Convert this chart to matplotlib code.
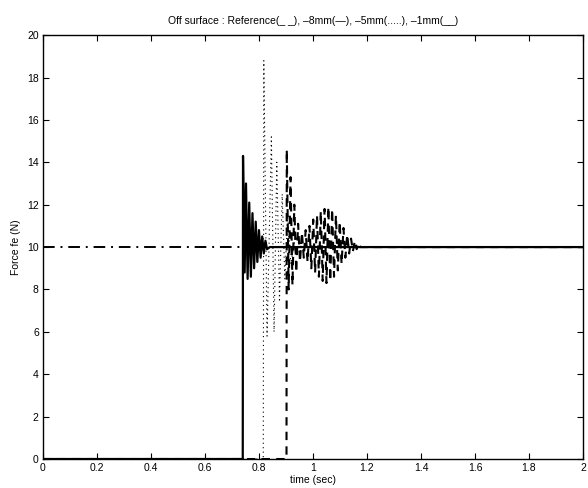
import numpy as np
import matplotlib
matplotlib.use('Agg')
import matplotlib.pyplot as plt

plt.rcParams['font.family'] = ['Liberation Sans', 'DejaVu Sans']

# reference force
t_ref = [0.0, 2.0]
f_ref = [10.0, 10.0]

# -8mm (dashed)
t_8mm = [0.0, 0.902, 0.903, 0.910, 0.917, 0.924, 0.931, 0.938, 0.945, 0.952, 0.959,
         0.966, 0.973, 0.980, 0.987, 0.994, 1.001, 1.008, 1.015, 1.022, 1.029, 1.036,
         1.043, 1.050, 1.057, 1.064, 1.071, 1.078, 1.085, 1.092, 1.099, 1.106, 1.113,
         1.120, 1.127, 1.134, 1.141, 1.148, 1.155, 1.162, 1.169, 1.176, 1.190, 2.0]
f_8mm = [0.0, 0.0, 14.6, 8.0, 13.3, 8.2, 12.0, 8.8, 11.1, 9.3, 10.7,
         9.5, 10.8, 9.3, 11.0, 9.0, 11.3, 8.8, 11.5, 8.6, 11.7, 8.4,
         11.8, 8.3, 11.9, 8.4, 11.8, 8.6, 11.5, 8.9, 11.2, 9.2, 10.9,
         9.5, 10.6, 9.7, 10.4, 9.8, 10.3, 9.9, 10.2, 10.0, 10.0, 10.0]

# -5mm (dotted)
t_5mm = [0.0, 0.816, 0.818, 0.830, 0.846, 0.856, 0.866, 0.876, 0.886, 0.896, 0.906,
         0.918, 0.935, 0.955, 2.0]
f_5mm = [0.0, 0.0, 18.8, 5.8, 15.2, 6.0, 14.0, 7.5, 12.5, 8.5, 11.5,
         9.2, 10.5, 10.0, 10.0]

# -1mm (solid)
t_1mm = [0.0, 0.740, 0.741, 0.747, 0.752, 0.758, 0.764, 0.770, 0.776, 0.782, 0.788,
         0.794, 0.800, 0.806, 0.812, 0.818, 0.824, 0.830, 0.840, 2.0]
f_1mm = [0.0, 0.0, 14.3, 8.8, 13.0, 8.5, 12.1, 8.6, 11.6, 9.0, 11.2,
         9.3, 10.8, 9.5, 10.5, 9.7, 10.3, 9.9, 10.0, 10.0]

xticks = [0, 0.2, 0.4, 0.6, 0.8, 1, 1.2, 1.4, 1.6, 1.8, 2]
xticklabels = ['0', '0.2', '0.4', '0.6', '0.8', '1', '1.2', '1.4', '1.6', '1.8', '2']
yticks = [0, 2, 4, 6, 8, 10, 12, 14, 16, 18, 20]

fig = plt.figure(figsize=(5.88, 4.88), dpi=100)
ax = fig.add_axes([0.073, 0.0594, 0.9185, 0.8686])

ax.plot(t_ref, f_ref, color='black', linestyle=(0, (6, 3, 1, 3)), linewidth=1.4)
ax.plot(t_8mm, f_8mm, color='black', linestyle=(0, (4, 3)), linewidth=1.5)
ax.plot(t_5mm, f_5mm, color='black', linestyle=(0, (1, 3)), linewidth=0.8)
ax.plot(t_1mm, f_1mm, color='black', linestyle='-', linewidth=1.6)

ax.set_xlim(0, 2)
ax.set_ylim(0, 20)
ax.set_xticks(xticks)
ax.set_xticklabels(xticklabels)
ax.set_yticks(yticks)
ax.tick_params(direction='in', top=True, right=True, labelsize=7.5, length=4, width=0.8, pad=3)
for s in ax.spines.values():
    s.set_linewidth(1.0)

ax.set_title('Off surface : Reference(_ _), \u20138mm(\u2014), \u20135mm(.....), \u20131mm(__)',
             fontsize=7.5, pad=8)
ax.set_xlabel('time (sec)', fontsize=7.5, labelpad=1)
ax.set_ylabel('Force fe (N)', fontsize=7.5, labelpad=4)

fig.savefig('out.png', dpi=100)
